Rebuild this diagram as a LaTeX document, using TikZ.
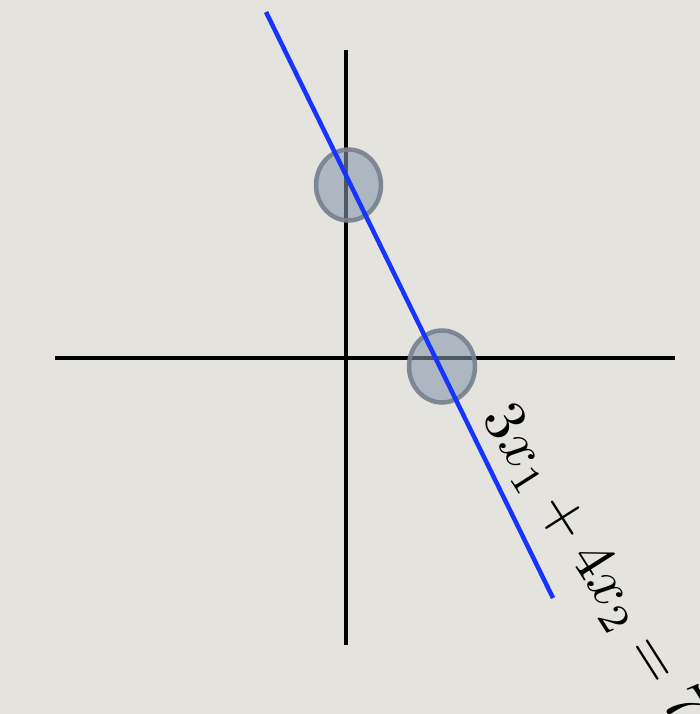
\documentclass[tikz,border=0pt]{standalone}
\usetikzlibrary{shapes.geometric}
\definecolor{paper}{RGB}{229,227,222}
\definecolor{discfill}{RGB}{132,152,174}
\definecolor{discedge}{RGB}{120,130,143}
\definecolor{lineblue}{RGB}{22,52,255}
\tikzset{
  axis/.style={line width=4pt, black},
  disc/.style={ellipse, inner sep=0pt, minimum width=65pt, minimum height=71pt,
    fill=discfill, fill opacity=0.58, draw=discedge, draw opacity=0.92, line width=4.5pt},
  constraint/.style={line width=4.5pt, lineblue},
  eqlabel/.style={scale=6, rotate=-57.5}
}
\begin{document}
\begin{tikzpicture}[x=1pt,y=-1pt]
  \fill[paper] (0,0) rectangle (700,714);
  \useasboundingbox (0,0) rectangle (700,714);
  \coordinate (xl) at (55,358);
  \coordinate (xr) at (675,358);
  \coordinate (yt) at (346,50);
  \coordinate (yb) at (346,645);
  \draw[axis] (xl) -- (xr);
  \draw[axis] (yt) -- (yb);
  \node[disc] (d1) at (348.5,185) {};
  \node[disc, minimum width=66pt, minimum height=72pt] (d2) at (442,366.5) {};
  \coordinate (la) at (266,12);
  \coordinate (lb) at (553,598);
  \draw[constraint] (la) -- (lb);
  \node[eqlabel] (eq) at (592,565) {$3x_1+4x_2=7$};
\end{tikzpicture}
\end{document}
